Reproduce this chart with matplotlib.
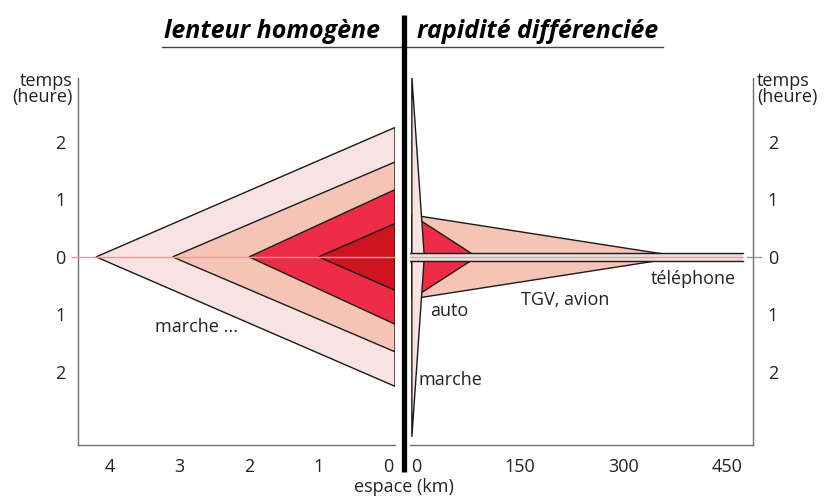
# Espace-temps : lenteur homogène vs rapidité différenciée
import numpy as np
import matplotlib
matplotlib.use("Agg")
import matplotlib.pyplot as plt
from matplotlib.lines import Line2D

plt.rcParams['font.family'] = ['Open Sans', 'DejaVu Sans']

# ------------------------------------------------------------
# data
# ------------------------------------------------------------

# left panel : walking, nested triangles (apex distance km, half height h)
lent_apex = [4.2, 3.1, 2.0, 1.0]
lent_half = [2.25, 1.65, 1.17, 0.58]
lent_colors = ['#f8e2e2', '#f5c4b7', '#ee2c46', '#cf1420']
lent_base = -0.1

# right panel : modes (apex distance km, half height h)
modes = ['TGV, avion', 'auto', 'marche']
mode_apex = [385, 88, 12]
mode_half = [0.73, 0.73, 3.13]
mode_colors = ['#f5c4b7', '#ee2c46', '#f8e2e2']
rapid_base = -6

tel_length = 473
tel_half = 0.07

left_xticks = [4, 3, 2, 1, 0]
right_xticks = [0, 150, 300, 450]
yticks = [2, 1, 0, -1, -2]
ytick_labels = ['2', '1', '0', '1', '2']

grey = '#6e6e6e'
zero_pink = '#e39a9a'
txt = '#222222'
fs = 13

# ------------------------------------------------------------
# figure
# ------------------------------------------------------------

fig = plt.figure(figsize=(8.26, 4.96), dpi=100)

W, H = 826, 496


def box(x0, y0, x1, y1):
    # pixel box (top-left origin) -> figure fraction
    return [x0 / W, (H - y1) / H, (x1 - x0) / W, (y1 - y0) / H]


ax1 = fig.add_axes(box(78, 78, 395, 445))
ax2 = fig.add_axes(box(410, 78, 752.5, 445))

ylim = (-3.27, 3.11)

# ---------------- left panel ----------------
for apex, half, col in zip(lent_apex, lent_half, lent_colors):
    ax1.fill([lent_base, apex, lent_base], [half, 0, -half],
             facecolor=col, edgecolor='#1a1a1a', linewidth=1.0, zorder=2)

ax1.axhline(0, xmin=-0.018, xmax=1, color=zero_pink, lw=1.0,
            clip_on=False, zorder=3)

ax1.set_xlim(4.46, -0.1)
ax1.set_ylim(*ylim)
ax1.set_xticks(left_xticks)
ax1.set_xticklabels([str(t) for t in left_xticks])
ax1.set_yticks(yticks)
ax1.set_yticklabels(ytick_labels)
ax1.tick_params(length=0, labelsize=fs, colors=txt)
ax1.tick_params(axis='x', pad=9)
ax1.tick_params(axis='y', pad=9)
for s in ['top', 'right']:
    ax1.spines[s].set_visible(False)
for s in ['left', 'bottom']:
    ax1.spines[s].set_color(grey)
    ax1.spines[s].set_linewidth(1.0)

ax1.text(3.35, -1.22, 'marche ...', fontsize=fs, va='center', ha='left',
         color=txt)

# ---------------- right panel ----------------
for apex, half, col in zip(mode_apex, mode_half, mode_colors):
    ax2.fill([rapid_base, apex, rapid_base], [half, 0, -half],
             facecolor=col, edgecolor='#1a1a1a', linewidth=1.0, zorder=2)

# téléphone : instantaneous, thin bar
ax2.fill([-8.7, tel_length, tel_length, -8.7],
         [tel_half, tel_half, -tel_half, -tel_half],
         facecolor='#ecdede', edgecolor='none', zorder=3)
ax2.plot([-8.7, tel_length], [tel_half, tel_half], color='#1a1a1a', lw=1.0, zorder=4)
ax2.plot([-8.7, tel_length], [-tel_half, -tel_half], color='#1a1a1a', lw=1.0, zorder=4)
ax2.plot([-8.7, tel_length], [0, 0], color=zero_pink, lw=0.8, zorder=4)
ax2.plot([0.985, 1.025], [0, 0], color='#9a9a9a', lw=1.0,
         transform=ax2.get_yaxis_transform(), clip_on=False, zorder=1)

ax2.set_xlim(-8.7, 487)
ax2.set_ylim(*ylim)
ax2.set_xticks(right_xticks)
ax2.set_xticklabels([str(t) for t in right_xticks])
ax2.yaxis.tick_right()
ax2.set_yticks(yticks)
ax2.set_yticklabels(ytick_labels)
ax2.tick_params(length=0, labelsize=fs, colors=txt)
ax2.tick_params(axis='x', pad=9)
ax2.tick_params(axis='y', pad=11)
for s in ['top', 'left']:
    ax2.spines[s].set_visible(False)
for s in ['right', 'bottom']:
    ax2.spines[s].set_color(grey)
    ax2.spines[s].set_linewidth(1.0)

label_pos = {'auto': (20, -0.94), 'TGV, avion': (152, -0.75),
             'téléphone': (340, -0.38), 'marche': (3, -2.14)}
for name, (lx, ly) in label_pos.items():
    ax2.text(lx, ly, name, fontsize=fs, va='center', ha='left', color=txt)

# ---------------- titles, divider, labels ----------------
fig.text(272 / W, 1 - 32 / H, 'lenteur homogène', fontsize=18,
         fontweight='bold', fontstyle='italic', ha='center', va='center')
fig.text(538 / W, 1 - 32 / H, 'rapidité différenciée', fontsize=18,
         fontweight='bold', fontstyle='italic', ha='center', va='center')

fig.add_artist(Line2D([162 / W, 663 / W], [1 - 47 / H, 1 - 47 / H],
                      color='#444444', lw=1.0))
fig.add_artist(Line2D([404 / W, 404 / W], [1 - 15 / H, 1 - 472 / H],
                      color='black', lw=3.8, solid_capstyle='butt'))

fig.text(73 / W, 1 - 89 / H, 'temps\n(heure)', fontsize=fs, ha='right',
         va='center', linespacing=0.9, color=txt)
fig.text(757 / W, 1 - 89 / H, 'temps\n(heure)', fontsize=fs, ha='left',
         va='center', linespacing=0.9, color=txt)
fig.text(404 / W, 1 - 487 / H, 'espace (km)', fontsize=fs, ha='center',
         va='center', color=txt)

fig.savefig('out.png', dpi=100)
